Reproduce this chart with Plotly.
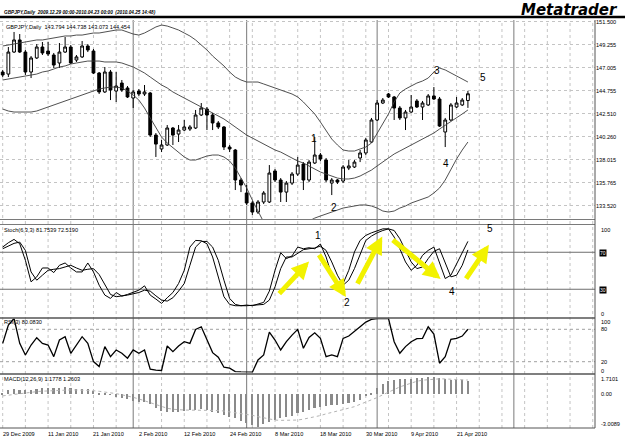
import plotly.graph_objects as go

# ---------------- data ----------------
x_label_text = ["29 Dec 2009", "11 Jan 2010", "21 Jan 2010", "2 Feb 2010", "12 Feb 2010",
                "24 Feb 2010", "8 Mar 2010", "18 Mar 2010", "30 Mar 2010", "9 Apr 2010", "21 Apr 2010"]
x_label_bars = [0, 8, 16, 24, 32, 40, 48, 56, 64, 72, 80]
month_separator_bars = [23, 43, 66, 90.1]

opens = [146.58,146.38,148.53,149.71,148.53,146.58,147.95,149.02,148.63,148.24,
         147.46,148.53,149.02,147.75,148.05,149.12,148.63,146.48,144.63,146.58,
         144.72,145.50,145.02,144.04,144.72,144.43,144.53,140.42,139.06,139.45,
         141.11,140.52,140.91,141.01,141.11,142.38,142.96,142.38,141.60,141.21,
         139.25,138.96,136.03,134.76,133.78,132.90,133.88,133.88,136.91,136.03,
         134.85,135.73,136.61,137.59,136.03,137.69,138.47,137.98,135.73,136.03,
         135.93,137.20,137.30,138.18,138.67,139.74,141.89,143.55,144.43,144.14,
         143.06,142.09,142.67,143.75,143.16,143.36,144.24,143.94,140.72,141.89,
         143.16,143.36,143.794]
highs = [146.78,149.02,150.49,150.29,148.73,148.14,149.31,149.51,149.51,148.44,
         149.41,150.00,149.22,148.24,149.61,149.31,148.83,146.58,147.07,146.78,
         146.58,145.80,145.21,144.82,144.92,145.31,144.63,140.62,139.94,141.40,
         141.21,141.40,141.89,141.40,142.87,143.55,143.16,142.58,141.79,141.30,
         139.45,139.06,136.22,135.54,133.98,134.07,134.95,137.49,137.10,136.22,
         135.93,136.81,138.28,137.78,137.98,140.23,138.67,138.18,136.22,136.12,
         137.49,137.98,137.98,138.96,140.13,142.09,143.84,144.04,144.53,144.24,
         143.26,142.87,144.33,143.94,143.75,144.43,145.11,144.14,142.09,143.55,
         144.14,144.04,144.738]
lows = [146.09,146.09,148.44,148.44,146.29,145.99,147.85,148.24,148.14,146.97,
        146.97,148.44,147.36,147.56,147.95,148.53,146.38,144.43,144.53,143.84,
        143.65,144.63,144.04,143.06,144.24,144.24,140.23,138.28,138.76,139.35,
        139.45,139.74,140.82,140.82,141.01,142.28,140.91,140.91,141.01,138.96,
        138.76,135.05,134.85,133.59,132.61,132.71,133.68,133.78,135.83,133.88,
        133.88,135.54,136.42,135.05,135.83,137.59,137.88,135.83,134.56,135.64,
        135.73,137.00,137.20,137.78,138.47,139.64,141.79,143.45,144.04,141.89,
        141.89,140.91,142.58,143.06,141.89,143.26,143.84,141.21,139.25,141.79,
        143.06,143.26,143.073]
closes = [146.29,148.53,149.71,148.53,146.58,147.95,149.02,148.44,148.34,147.26,
          148.53,149.02,147.46,148.05,149.12,148.73,146.48,144.63,146.58,144.82,
          145.21,144.82,144.14,144.63,144.43,144.63,140.42,139.54,139.45,141.11,
          140.42,140.91,141.21,141.21,142.38,143.06,142.38,141.60,141.21,139.25,
          139.06,136.03,135.54,133.78,132.90,133.88,134.76,136.71,136.03,134.85,
          135.73,136.61,137.49,136.03,137.78,138.47,138.08,136.03,136.03,135.83,
          137.30,137.40,137.78,138.67,139.94,141.89,143.55,143.84,144.14,143.06,
          142.09,142.67,143.16,143.16,143.55,144.24,143.94,141.30,141.89,143.36,
          143.55,143.84,144.454]

bb_upper = [149.12,149.22,149.31,149.41,149.51,149.61,149.71,149.71,149.80,149.90,
            150.00,150.10,150.10,150.19,150.19,150.29,150.39,150.39,150.49,150.59,
            150.68,150.68,150.49,150.29,150.19,150.39,150.68,150.98,151.17,151.07,
            150.88,150.68,150.39,150.10,149.71,149.22,148.73,148.14,147.65,147.17,
            146.58,146.09,145.80,145.60,145.60,145.60,145.41,145.21,145.02,144.82,
            144.63,144.43,144.14,143.65,143.06,142.48,141.69,140.91,140.03,139.45,
            138.96,138.86,138.86,139.06,139.25,139.64,140.62,141.50,142.48,143.65,
            144.53,144.92,145.21,145.50,145.70,145.99,146.58,146.97,146.78,146.48,
            146.19,145.90,145.60]
bb_middle = [145.80,145.90,145.99,146.09,146.19,146.29,146.38,146.58,146.68,146.87,
             147.07,147.17,147.36,147.46,147.56,147.65,147.65,147.65,147.56,147.56,
             147.56,147.46,147.26,147.07,146.78,146.48,146.09,145.70,145.31,145.02,
             144.63,144.33,144.04,143.75,143.45,143.16,142.87,142.58,142.28,141.99,
             141.60,141.21,140.82,140.42,140.13,139.84,139.54,139.25,138.96,138.76,
             138.47,138.18,137.88,137.69,137.40,137.10,136.81,136.61,136.42,136.22,
             136.13,136.13,136.22,136.42,136.71,137.00,137.40,137.78,138.18,138.57,
             138.86,139.16,139.45,139.74,140.03,140.33,140.62,141.01,141.40,141.79,
             142.09,142.48,142.87]
bb_lower = [142.96,142.77,142.67,142.67,142.67,142.67,142.77,142.96,143.16,143.36,
            143.55,143.75,143.94,144.14,144.33,144.53,144.72,144.92,145.02,145.11,
            145.11,145.02,144.72,144.33,143.84,143.06,142.09,141.11,140.23,139.64,
            139.16,138.67,138.28,137.98,137.98,138.18,138.37,138.47,138.47,138.28,
            137.88,137.20,136.22,135.25,134.07,132.90,131.92,131.34,130.95,130.75,
            130.65,130.75,131.14,131.63,132.02,132.31,132.51,132.71,132.90,133.10,
            133.29,133.39,133.49,133.59,133.59,133.49,133.29,133.00,132.90,133.00,
            133.29,133.49,133.78,133.98,134.17,134.37,134.76,135.25,136.03,137.10,
            138.08,138.96,139.74]

stoch_main = [75.6,80.3,83.9,79.2,61.3,38.0,43.4,53.0,53.0,48.0,
              55.9,58.4,53.0,48.7,48.7,58.4,48.7,34.4,23.7,20.1,
              26.5,22.6,24.4,26.5,29.0,33.7,23.7,19.4,14.7,20.8,
              26.5,36.2,50.5,75.6,82.8,82.4,79.2,64.9,43.4,21.9,
              13.6,12.2,12.2,12.9,12.2,13.6,15.8,28.0,50.5,69.5,
              63.1,66.0,75.6,73.8,74.9,73.8,78.9,64.9,45.2,34.4,
              36.2,50.5,70.3,82.8,88.2,91.0,93.5,95.3,95.3,86.4,
              73.8,59.5,50.5,55.9,66.7,72.0,75.6,59.5,41.6,45.2,
              57.7,70.3,81.7539]
stoch_signal = [73.8,76.7,79.6,81.0,72.0,48.7,39.8,45.2,50.5,51.6,
                52.3,54.1,55.9,53.0,50.5,51.6,52.3,45.9,34.4,24.4,
                21.9,22.6,23.7,25.1,26.5,29.0,28.0,22.9,18.3,17.2,
                20.8,28.0,36.2,55.9,75.6,81.7,81.7,75.6,61.3,39.8,
                20.1,13.6,12.2,12.2,12.9,12.9,13.6,18.3,32.6,52.3,
                64.9,64.9,68.5,72.8,73.8,74.6,76.7,72.0,59.5,45.2,
                34.4,39.8,52.3,68.5,82.8,87.5,91.0,93.5,95.3,93.5,
                84.6,72.0,59.5,52.3,54.1,63.1,71.0,73.8,59.5,43.4,
                45.2,55.9,72.5190]

rsi = [54.0,87.7,100.0,54.0,32.5,50.9,64.4,54.0,50.9,29.4,
       60.1,66.3,35.6,50.9,66.3,54.0,20.2,11.0,47.9,29.4,
       41.7,35.6,26.4,41.7,35.6,41.7,6.1,4.3,3.7,49.1,
       38.7,49.1,57.1,54.0,79.8,84.7,60.1,36.8,28.2,9.8,
       8.0,1.8,1.2,0.5,0.5,23.3,32.5,74.8,60.1,41.7,
       57.1,69.3,79.8,44.8,65.0,73.6,63.2,29.4,32.5,29.4,
       63.2,67.5,75.5,84.7,93.3,98.2,100.0,100.0,100.0,57.1,
       35.6,47.9,57.1,62.6,63.2,84.7,71.2,17.2,29.4,61.3,
       63.2,67.5,80.0830]

macd_main = [0.08,0.37,0.46,0.37,0.37,0.37,0.46,0.58,0.52,0.52,
             0.52,0.61,0.52,0.46,0.46,0.46,0.28,0.14,0.08,-0.07,
             -0.22,-0.31,-0.46,-0.58,-0.66,-0.66,-0.90,-1.26,-1.47,-1.55,
             -1.55,-1.55,-1.47,-1.41,-1.41,-1.35,-1.41,-1.55,-1.70,-1.85,
             -2.00,-2.15,-2.39,-2.53,-2.75,-2.90,-2.65,-2.45,-2.30,-2.15,
             -2.00,-1.94,-1.70,-1.55,-1.41,-1.26,-1.11,-1.05,-0.96,-0.96,
             -0.87,-0.81,-0.69,-0.52,-0.16,0.14,0.52,0.91,1.20,1.26,
             1.32,1.32,1.35,1.41,1.41,1.50,1.50,1.41,1.32,1.26,
             1.26,1.26,1.1778]
macd_signal = [-0.15,-0.08,0.00,0.06,0.12,0.18,0.23,0.27,0.30,0.33,
               0.35,0.37,0.38,0.38,0.37,0.35,0.31,0.26,0.20,0.13,
               0.05,-0.05,-0.15,-0.28,-0.42,-0.58,-0.76,-0.95,-1.12,-1.25,
               -1.34,-1.39,-1.41,-1.42,-1.42,-1.41,-1.41,-1.42,-1.45,-1.50,
               -1.57,-1.65,-1.72,-1.80,-1.88,-2.00,-2.12,-2.22,-2.30,-2.33,
               -2.33,-2.32,-2.30,-2.22,-2.12,-2.00,-1.90,-1.75,-1.60,-1.48,
               -1.37,-1.24,-1.11,-0.90,-0.72,-0.52,-0.30,-0.05,0.20,0.45,
               0.65,0.82,1.00,1.15,1.25,1.30,1.35,1.37,1.36,1.34,
               1.31,1.28,1.2603]

price_ticks = [151.500, 149.255, 147.005, 144.755, 142.510, 140.260, 138.015, 135.765, 133.520]
price_tick_text = ["151.500", "149.255", "147.005", "144.755", "142.510",
                   "140.260", "138.015", "135.765", "133.520"]
stoch_levels = [70, 30]
rsi_levels = [80, 20]
macd_range = [-3.0089, 1.7101]

bars = list(range(len(closes)))

# ---------------- geometry helpers ----------------
W, H = 625, 442
ML, MR, MT, MB = 0, 30, 20, 14
PW, PH = W - ML - MR, H - MT - MB


def py(px_y):
    return (H - MB - px_y) / PH


def pxx(px_x):
    return (px_x - ML) / PW


def dom(top, bot):
    return [py(bot), py(top)]


FONT = "Liberation Sans"
SMALL = 5.6
fig = go.Figure()

fig.add_trace(go.Candlestick(
    x=bars, open=opens, high=highs, low=lows, close=closes,
    increasing=dict(line=dict(color="black", width=1), fillcolor="white"),
    decreasing=dict(line=dict(color="black", width=1), fillcolor="black"),
    whiskerwidth=0, xaxis="x", yaxis="y", hoverinfo="skip", showlegend=False))

for band in (bb_upper, bb_middle, bb_lower):
    fig.add_trace(go.Scatter(x=bars, y=band, mode="lines", xaxis="x", yaxis="y",
                             line=dict(color="#3c3c3c", width=0.9), hoverinfo="skip",
                             showlegend=False))

fig.add_trace(go.Scatter(x=bars, y=stoch_main, mode="lines", xaxis="x", yaxis="y2",
                         line=dict(color="black", width=1), showlegend=False, hoverinfo="skip"))
fig.add_trace(go.Scatter(x=bars, y=stoch_signal, mode="lines", xaxis="x", yaxis="y2",
                         line=dict(color="black", width=1), showlegend=False, hoverinfo="skip"))

fig.add_trace(go.Scatter(x=bars, y=rsi, mode="lines", xaxis="x", yaxis="y3",
                         line=dict(color="black", width=1.3), showlegend=False, hoverinfo="skip"))

fig.add_trace(go.Bar(x=bars, y=macd_main, width=0.28, xaxis="x", yaxis="y4",
                     marker=dict(color="#8a8a8a", line=dict(width=0)),
                     showlegend=False, hoverinfo="skip"))
fig.add_trace(go.Scatter(x=bars, y=macd_signal, mode="lines", xaxis="x", yaxis="y4",
                         line=dict(color="#b4b4b4", width=1, dash="dot"),
                         showlegend=False, hoverinfo="skip"))

shapes = []
for b in range(0, 105, 4):
    shapes.append(dict(type="line", xref="x", yref="paper", x0=b, x1=b, y0=0, y1=1,
                       line=dict(color="#c4c4c4", width=1, dash="dot"), layer="below"))
for b in month_separator_bars:
    shapes.append(dict(type="line", xref="x", yref="paper", x0=b, x1=b, y0=0, y1=1,
                       line=dict(color="#7a7a7a", width=1), layer="below"))
for lv in stoch_levels:
    shapes.append(dict(type="line", xref="paper", yref="y2", x0=0, x1=1, y0=lv, y1=lv,
                       line=dict(color="#6e6e6e", width=1), layer="below"))
for lv in rsi_levels:
    shapes.append(dict(type="line", xref="paper", yref="y3", x0=0, x1=1, y0=lv, y1=lv,
                       line=dict(color="#a0a0a0", width=1, dash="dot"), layer="below"))
for yy, col, wd in [(219.5, "#7a7a7a", 1), (224.5, "#7a7a7a", 1), (318, "#555555", 1.5),
                    (374, "#555555", 1.5), (428, "#555555", 1)]:
    shapes.append(dict(type="line", xref="paper", yref="paper", x0=0, x1=1,
                       y0=py(yy), y1=py(yy), line=dict(color=col, width=wd)))
shapes.append(dict(type="line", xref="paper", yref="paper", x0=1, x1=1, y0=0, y1=1,
                   line=dict(color="#555555", width=1)))
shapes.append(dict(type="line", xref="paper", yref="paper", x0=0, x1=pxx(625),
                   y0=py(17), y1=py(17), line=dict(color="black", width=2.5)))

ann = []


def text(x, y, s, size=SMALL, xanchor="left", yanchor="middle", xref="paper", yref="paper",
         family=FONT, weight="normal", style="normal"):
    ann.append(dict(x=x, y=y, xref=xref, yref=yref, text=s, showarrow=False,
                    xanchor=xanchor, yanchor=yanchor,
                    font=dict(family=family, size=size, color="#000000",
                              weight=weight, style=style)))


text(pxx(2), py(12), "GBPJPY,Daily  2009.12.29 00:00-2010.04.23 00:00  (2010.04.25 14:48)",
     size=4.7, weight="bold", style="italic")
text(pxx(620), py(9.5), "Metatrader", size=15, xanchor="right", family="DejaVu Sans",
     weight="bold", style="italic")
text(pxx(4), py(27), "GBPJPY,Daily  143.794 144.738 143.073 144.454")
text(pxx(2), py(230), "Stoch(6,3,3) 81.7539 72.5190")
text(pxx(2), py(322), "RSI(3) 80.0830")
text(pxx(2), py(379), "MACD(12,26,9) 1.1778 1.2603")

for s, yy in [("100", 230), ("0", 314), ("100", 322), ("80", 329), ("20", 362), ("0", 371),
              ("1.7101", 379), ("0.00", 394), ("-3.0089", 424)]:
    text(pxx(599), py(yy), s)
for lv, yy in [(stoch_levels[0], 253), (stoch_levels[1], 290)]:
    ann.append(dict(x=pxx(599), y=py(yy), xref="paper", yref="paper", text=str(lv),
                    showarrow=False, xanchor="left", yanchor="middle", bgcolor="black",
                    borderpad=0, font=dict(family=FONT, size=5, color="white")))

for b, s in zip(x_label_bars, x_label_text):
    ann.append(dict(x=b, y=py(434), xref="x", yref="paper", text=s, showarrow=False,
                    xanchor="left", yanchor="middle", xshift=-2,
                    font=dict(family=FONT, size=SMALL, color="#000000")))

for s, xb, yv in [("1", 54.9, 140.13), ("2", 58.4, 133.39), ("3", 76.5, 146.77),
                  ("4", 78.1, 137.69), ("5", 84.6, 146.09)]:
    text(xb, yv, s, size=10, xanchor="center", xref="x", yref="y")
for s, xb, yv in [("1", 55.6, 88.2), ("2", 60.7, 16.1), ("3", 67.9, 102.5),
                  ("4", 79.2, 28.0), ("5", 85.9, 95.7)]:
    text(xb, yv, s, size=10, xanchor="center", xref="x", yref="y2")

for (x0, y0, x1, y1) in [(48.5, 23.7, 54.0, 60.0), (55.6, 68.8, 60.5, 21.5),
                         (62.4, 34.4, 66.9, 87.0), (68.5, 84.6, 77.2, 41.0),
                         (81.5, 39.8, 85.7, 78.0)]:
    ann.append(dict(x=x1, y=y1, ax=x0, ay=y0, xref="x", yref="y2", axref="x", ayref="y2",
                    text="", showarrow=True, arrowhead=2, arrowsize=0.7, arrowwidth=5,
                    arrowcolor="#f2f200"))

axis_common = dict(showgrid=False, zeroline=False, showline=False, fixedrange=True)
fig.update_layout(
    width=W, height=H, margin=dict(l=ML, r=MR, t=MT, b=MB),
    paper_bgcolor="white", plot_bgcolor="white", showlegend=False,
    font=dict(family=FONT, size=7, color="black"),
    bargap=0,
    xaxis=dict(domain=[0, 1], range=[-0.476, 104.4], anchor="y4", showticklabels=False,
               rangeslider=dict(visible=False), **axis_common),
    yaxis=dict(domain=dom(20, 219), range=[132.22, 151.66], side="right", anchor="x",
               tickvals=price_ticks, ticktext=price_tick_text, ticks="",
               tickfont=dict(size=SMALL, family=FONT, color="#000000"), showgrid=True,
               gridcolor="#c4c4c4", griddash="dot", gridwidth=1, zeroline=False,
               showline=False, fixedrange=True),
    yaxis2=dict(domain=dom(224.5, 317), range=[0, 100], anchor="x", showticklabels=False,
                **axis_common),
    yaxis3=dict(domain=dom(318.5, 372.5), range=[0, 100], anchor="x", showticklabels=False,
                **axis_common),
    yaxis4=dict(domain=dom(375, 428), range=macd_range, anchor="x", showticklabels=False,
                **axis_common),
    shapes=shapes, annotations=ann, hovermode=False,
)

fig.write_html("out.html", config={"displayModeBar": False})
